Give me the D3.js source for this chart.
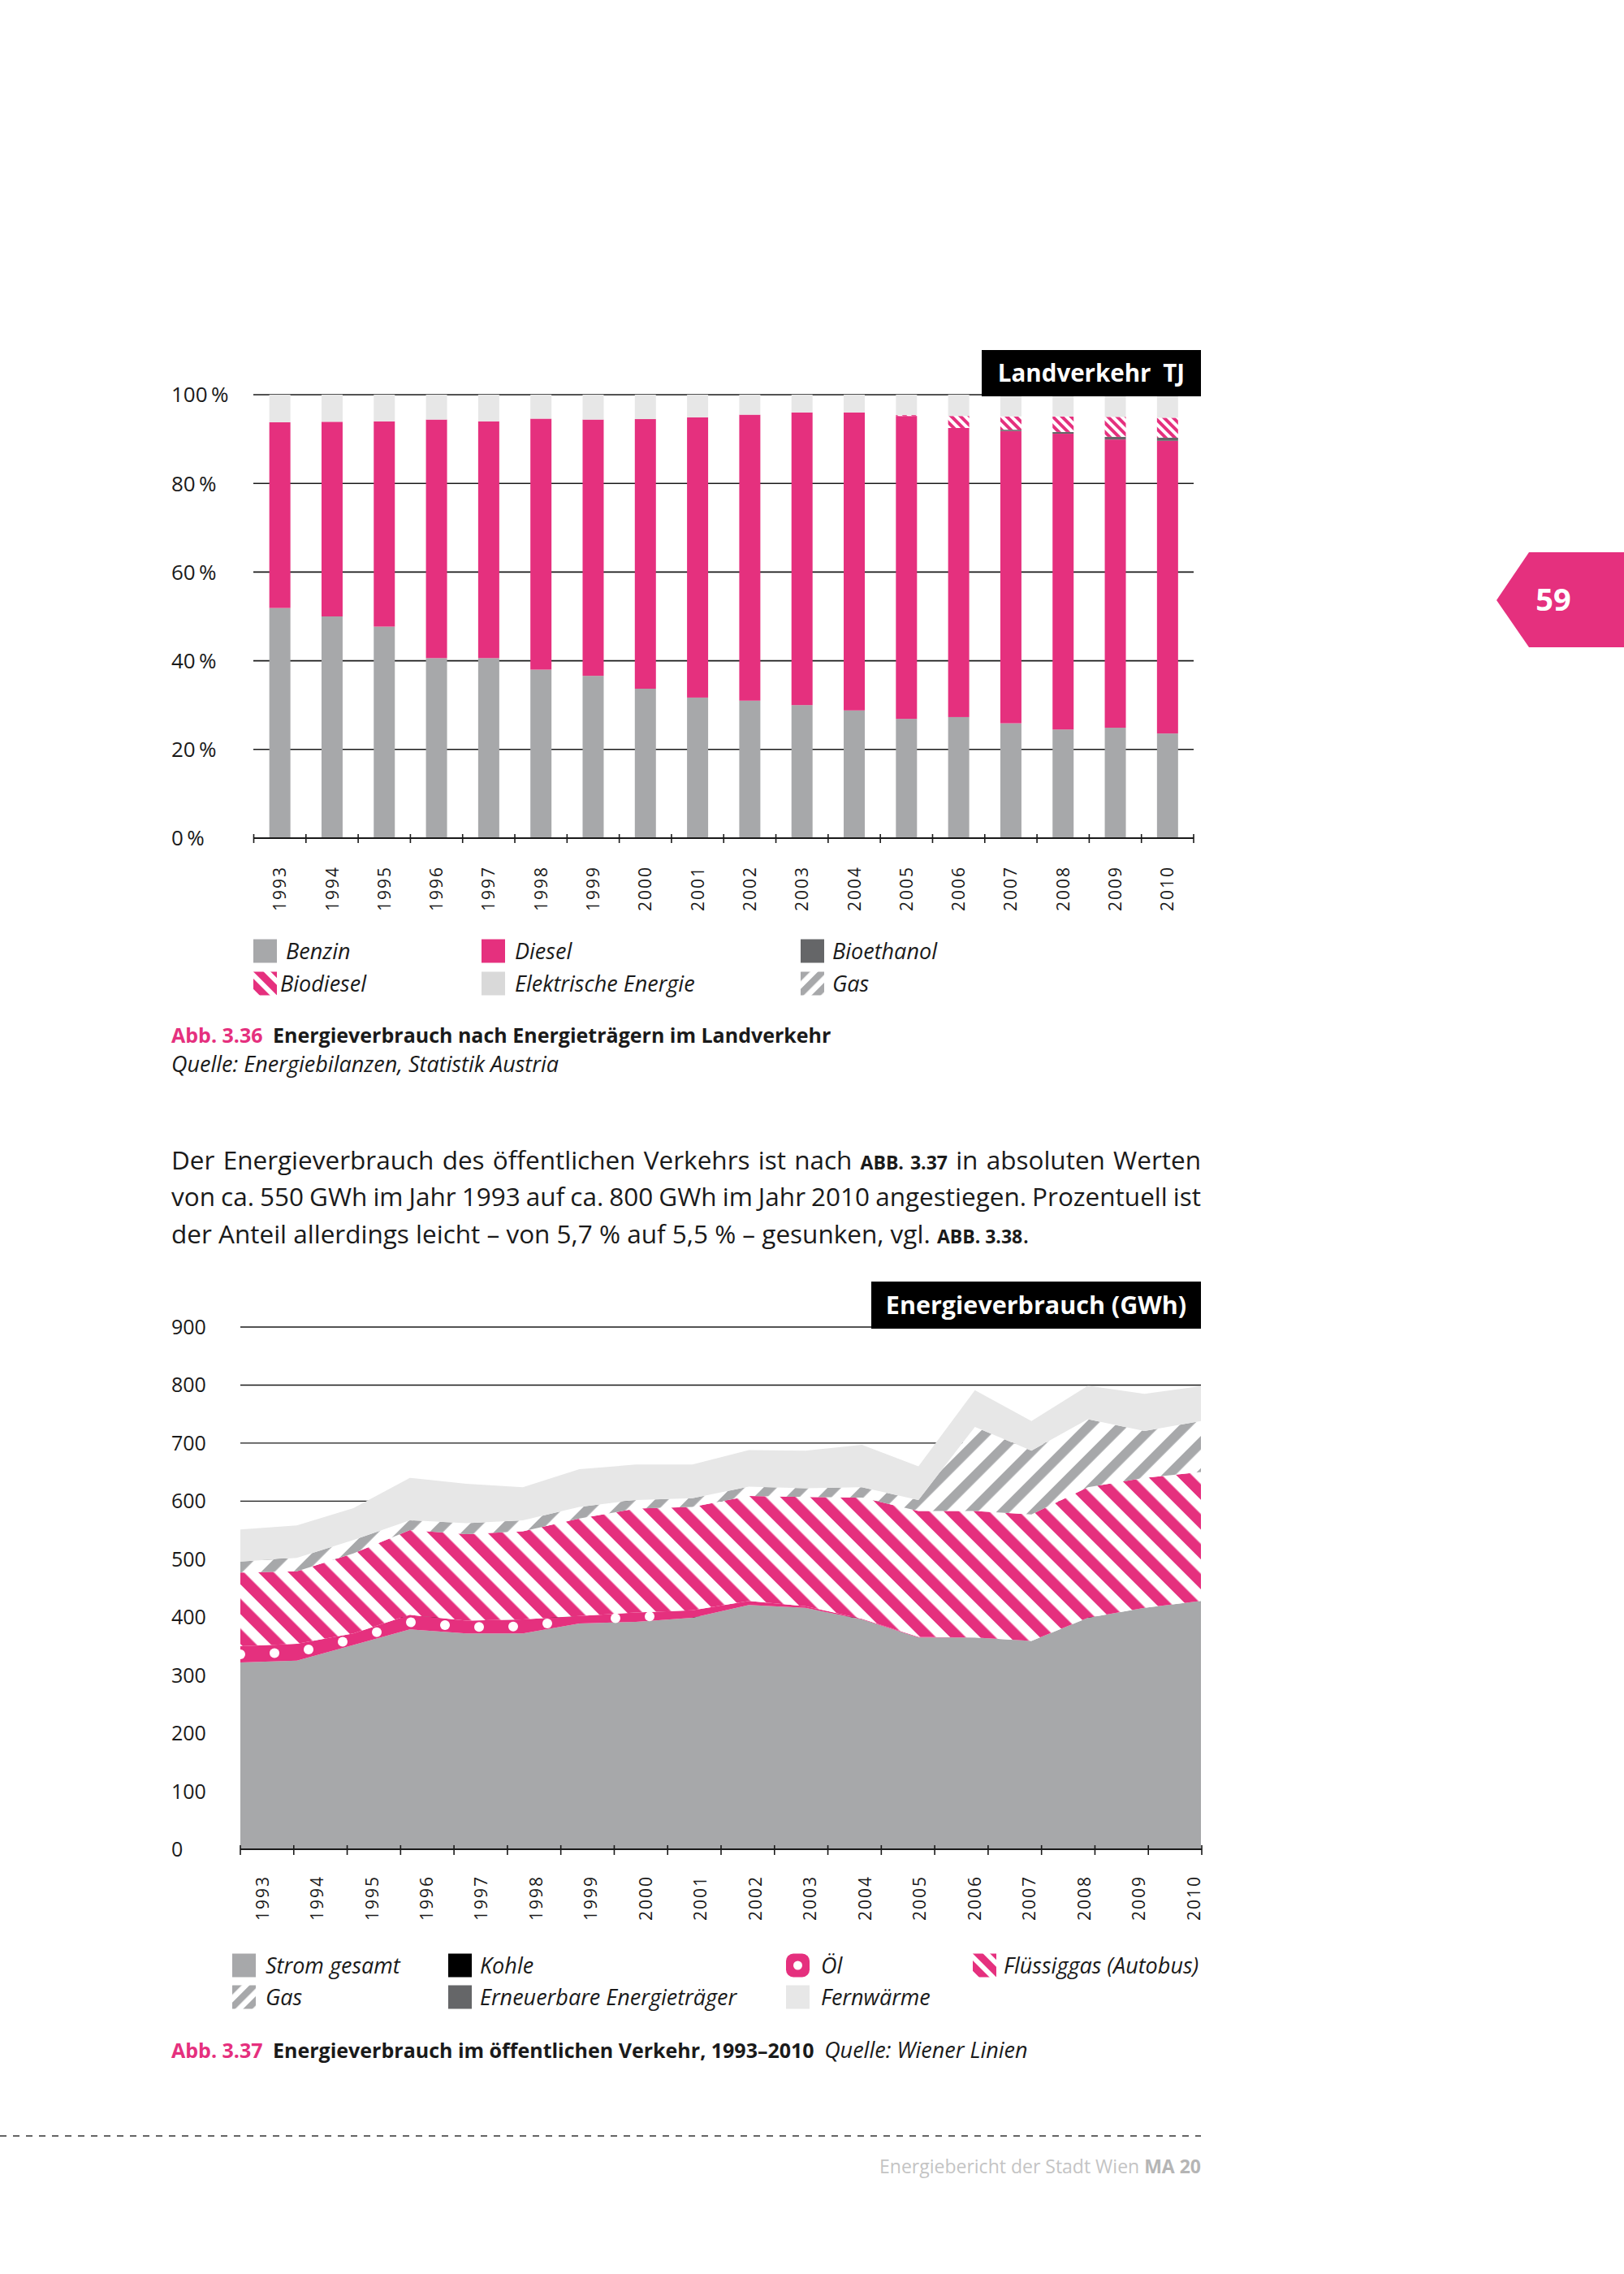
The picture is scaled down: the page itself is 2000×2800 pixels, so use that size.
<!DOCTYPE html>
<html><head><meta charset="utf-8">
<script src="https://cdn.jsdelivr.net/npm/d3@7"></script>
<style>
body{margin:0;background:#fff}
svg{display:block}
text{font-family:"Open Sans","Noto Sans","DejaVu Sans",sans-serif;fill:#1a1a1a}
</style></head>
<body><svg id="c" width="2000" height="2800"></svg>
<script>
// ---------- DATA ----------
const years = ["1993","1994","1995","1996","1997","1998","1999","2000","2001","2002","2003","2004","2005","2006","2007","2008","2009","2010"];

// Abb. 3.36 – shares in % (Landverkehr)
const landKeys = ["Benzin","Diesel","Bioethanol","Biodiesel","Elektrische Energie","Gas"];
const benzin     = [51.9,50.0,47.7,40.6,40.6,38.0,36.6,33.7,31.7,31.0,30.0,28.8,26.9,27.3,25.9,24.5,24.9,23.6];
const diesel     = [41.9,43.9,46.3,53.8,53.4,56.6,57.8,60.8,63.2,64.5,66.0,67.2,68.3,65.2,65.9,66.7,65.0,66.0];
const bioethanol = [0,0,0,0,0,0,0,0,0,0,0,0,0,0,0.3,0.4,0.6,0.7];
const biodiesel  = [0,0,0,0,0,0,0,0,0,0,0,0,0.2,2.7,3.0,3.5,4.5,4.5];
const elektrisch = [6.2,6.1,6.0,5.6,6.0,5.4,5.6,5.5,5.1,4.5,4.0,4.0,4.6,4.8,4.6,4.6,4.7,4.9];
const gasLand    = [0,0,0,0,0,0,0,0,0,0,0,0,0,0,0.3,0.3,0.3,0.3];
const pctTicks   = [0,20,40,60,80,100];

// Abb. 3.37 – GWh (öffentlicher Verkehr)
const oevKeys = ["Strom gesamt","Kohle","Öl","Flüssiggas (Autobus)","Gas","Erneuerbare Energieträger","Fernwärme"];
const strom       = [322,325,352,379,372,372,389,392,399,421,416,396,365,365,359,399,416,428];
const kohle       = [0,0,0,0,0,0,0,0,0,0,0,0,0,0,0,0,0,0];
const oel         = [28,29,20,25,22,24,13,16,13,7,3,1,1,0,0,0,0,0];
const fluessiggas = [127,125,138,146,149,152,168,179,178,181,188,209,217,218,218,225,224,222];
const gasOev      = [19,23,23,17,19,19,20,15,15,16,15,18,19,145,110,117,81,88];
const erneuerbar  = [0,0,0,0,0,0,0,0,0,0,0,0,0,0,0,0,0,0];
const fernwaerme  = [55,56,55,73,68,57,65,61,58,63,65,73,58,63,51,58,64,60];
const gwhTicks    = [0,100,200,300,400,500,600,700,800,900];

// ---------- STYLE ----------
const PINK="#e5307e", GRAY="#a7a8aa", LIGHT="#e7e7e7", DARK="#656668", BLACK="#000";

const svg = d3.select("#c");
svg.append("rect").attr("width",2000).attr("height",2800).attr("fill","#fff");
const defs = svg.append("defs");
function stripes(id,color,pitch,frac,angle){
  const p=defs.append("pattern").attr("id",id).attr("patternUnits","userSpaceOnUse")
    .attr("width",pitch).attr("height",pitch).attr("patternTransform",`rotate(${angle})`);
  p.append("rect").attr("width",pitch).attr("height",pitch).attr("fill","#fff");
  p.append("rect").attr("width",pitch*frac).attr("height",pitch).attr("fill",color);
}
stripes("pFluessig",PINK,26,0.52,-45);
stripes("pGas",GRAY,28,0.42,45);
stripes("pBio",PINK,8,0.5,-45);
stripes("pGasSmall",GRAY,8,0.45,45);
stripes("pLegPink",PINK,15,0.6,-45);
stripes("pLegGray",GRAY,15,0.55,45);

// ---------- PAGE TAB ----------
svg.append("polygon").attr("points","1843,739 1883,680 2000,680 2000,797 1883,797").attr("fill",PINK);
svg.append("text").attr("x",1913).attr("y",752).attr("text-anchor","middle")
  .attr("font-size",38).attr("font-weight",700).style("fill","#fff").text("59");

// ---------- CHART 1 ----------
const x1 = d3.scaleBand().domain(years).range([312.5,1470]).paddingInner(0.596).paddingOuter(0.298);
const y1 = d3.scaleLinear().domain([0,100]).range([1032,486]);
const g1 = svg.append("g");
g1.selectAll("line.grid").data(pctTicks.filter(d=>d>0)).join("line")
  .attr("x1",312).attr("x2",1470).attr("y1",d=>y1(d)).attr("y2",d=>y1(d))
  .attr("stroke","#1a1a1a").attr("stroke-width",1.6);
g1.selectAll("text.yl").data(pctTicks).join("text")
  .attr("x",211).attr("y",d=>y1(d)).attr("dy","0.36em").attr("font-size",26)
  .text(d=>d+"\u2009%");

const landSeries=[benzin,diesel,bioethanol,biodiesel,elektrisch,gasLand];
const landTable = years.map((y,i)=>{const o={year:y};landKeys.forEach((k,j)=>o[k]=landSeries[j][i]);return o;});
const landStack = d3.stack().keys(landKeys)(landTable);
const landFill = {"Benzin":GRAY,"Diesel":PINK,"Bioethanol":DARK,"Biodiesel":"url(#pBio)","Elektrische Energie":LIGHT,"Gas":"url(#pGasSmall)"};
g1.selectAll("g.layer").data(landStack).join("g").attr("fill",d=>landFill[d.key])
  .selectAll("rect").data(d=>d).join("rect")
  .attr("x",d=>x1(d.data.year)).attr("width",x1.bandwidth())
  .attr("y",d=>y1(d[1])).attr("height",d=>Math.max(0,y1(d[0])-y1(d[1])));

// axis
g1.append("line").attr("x1",312).attr("x2",1470).attr("y1",y1(0)).attr("y2",y1(0)).attr("stroke","#1a1a1a").attr("stroke-width",2);
const tick1 = d3.range(years.length+1).map(i=>312.5+i*x1.step());
g1.selectAll("line.tk").data(tick1).join("line")
  .attr("x1",d=>d).attr("x2",d=>d).attr("y1",y1(0)-5).attr("y2",y1(0)+6).attr("stroke","#1a1a1a").attr("stroke-width",1.6);
g1.selectAll("text.xl").data(years).join("text")
  .attr("transform",d=>`translate(${x1(d)+x1.bandwidth()/2},1066) rotate(-90)`)
  .attr("text-anchor","end").attr("dy","0.36em").attr("font-size",21).style("letter-spacing","2px")
  .text(d=>d);

// title box
g1.append("rect").attr("x",1209).attr("y",431).attr("width",270).attr("height",57).attr("fill","#000");
g1.append("text").attr("x",1344).attr("y",470).attr("text-anchor","middle").attr("font-size",29.5)
  .attr("font-weight",700).style("fill","#fff").text("Landverkehr\u2002TJ");

// ---------- LEGEND helper ----------
function swatch(g,kind){
  const s=29;
  if(kind==="oel"){
    g.append("rect").attr("width",s).attr("height",s).attr("rx",9).attr("fill",PINK);
    g.append("circle").attr("cx",s/2).attr("cy",s/2).attr("r",5.5).attr("fill","#fff");
  } else {
    g.append("rect").attr("width",s).attr("height",s).attr("fill",kind);
  }
}
function legend(items,swX,txtX,rowY){
  items.forEach(it=>{
    const cy=rowY[it.r];
    const g=svg.append("g").attr("transform",`translate(${swX[it.c]},${cy-14.5})`);
    swatch(g,it.fill);
    svg.append("text").attr("x",(it.tx||txtX[it.c])).attr("y",cy).attr("dy","0.36em")
      .attr("font-size",27).attr("font-style","italic").text(it.label);
  });
}
legend([
  {label:"Benzin",c:0,r:0,fill:GRAY},
  {label:"Diesel",c:1,r:0,fill:PINK},
  {label:"Bioethanol",c:2,r:0,fill:DARK},
  {label:"Biodiesel",c:0,r:1,fill:"url(#pLegPink)",tx:345},
  {label:"Elektrische Energie",c:1,r:1,fill:"#d9d9d9"},
  {label:"Gas",c:2,r:1,fill:"url(#pLegGray)"}
],[312,593,986],[352,634,1025],[1171,1211]);

// caption 1
const cap1=svg.append("text").attr("x",211).attr("y",1284).attr("font-size",25);
cap1.append("tspan").attr("font-weight",700).style("fill",PINK).text("Abb. 3.36\u2002");
cap1.append("tspan").attr("font-weight",700).text("Energieverbrauch nach Energieträgern im Landverkehr");
svg.append("text").attr("x",211).attr("y",1320).attr("font-size",27).attr("font-style","italic")
  .text("Quelle: Energiebilanzen, Statistik Austria");

// ---------- PARAGRAPH ----------
const para=[
  [["Der Energieverbrauch des öffentlichen Verkehrs ist nach ",false],["ABB. 3.37",true],[" in absoluten Werten",false]],
  [["von ca. 550 GWh im Jahr 1993 auf ca. 800 GWh im Jahr 2010 angestiegen. Prozentuell ist",false]],
  [["der Anteil allerdings leicht – von 5,7 % auf 5,5 % – gesunken, vgl. ",false],["ABB. 3.38",true],[".",false]]
];
const paraY=[1440,1485,1531];
para.forEach((line,i)=>{
  const t=svg.append("text").attr("x",211).attr("y",paraY[i]).attr("font-size",31.5);
  line.forEach(([s,b])=>{
    const ts=t.append("tspan").text(s);
    if(b) ts.attr("font-weight",700).attr("font-size",23);
  });
  if(i<2){
    const len=t.node().getComputedTextLength();
    const n=line.map(d=>d[0]).join("").split(" ").length-1;
    t.style("word-spacing",((1479-211-len)/n)+"px");
  }
});

// ---------- CHART 2 ----------
const x2 = d3.scalePoint().domain(years).range([296,1479]);
const xLab2 = d3.scalePoint().domain(years).range([323,1470]);
const y2 = d3.scaleLinear().domain([0,900]).range([2277,1634]);
const g2=svg.append("g");
g2.selectAll("line.grid").data(gwhTicks.filter(d=>d>0)).join("line")
  .attr("x1",296).attr("x2",d=>d===900?1073:1479).attr("y1",d=>y2(d)).attr("y2",d=>y2(d))
  .attr("stroke","#1a1a1a").attr("stroke-width",1.4);
g2.selectAll("text.yl").data(gwhTicks).join("text")
  .attr("x",211).attr("y",d=>y2(d)).attr("dy","0.36em").attr("font-size",25).text(d=>d);

const oevSeries=[strom,kohle,oel,fluessiggas,gasOev,erneuerbar,fernwaerme];
const oevTable = years.map((y,i)=>{const o={year:y};oevKeys.forEach((k,j)=>o[k]=oevSeries[j][i]);return o;});
const oevStack = d3.stack().keys(oevKeys)(oevTable);
const oevFill={"Strom gesamt":GRAY,"Kohle":BLACK,"Öl":PINK,"Flüssiggas (Autobus)":"url(#pFluessig)","Gas":"url(#pGas)","Erneuerbare Energieträger":DARK,"Fernwärme":LIGHT};
const area=d3.area().x(d=>x2(d.data.year)).y0(d=>y2(d[0])).y1(d=>y2(d[1]));
g2.selectAll("path.layer").data(oevStack).join("path").attr("d",area).attr("fill",d=>oevFill[d.key]);

// Öl dots along the band
const oelLayer=oevStack[oevKeys.indexOf("Öl")];
const dots=[];
for(let px=296; px<=1479; px+=42){
  const t=(px-296)/x2.step(); const i=Math.min(Math.floor(t),years.length-2); const f=t-i;
  const lo=d3.interpolate(oelLayer[i][0],oelLayer[i+1][0])(f);
  const hi=d3.interpolate(oelLayer[i][1],oelLayer[i+1][1])(f);
  if(y2(lo)-y2(hi)>10) dots.push([px,(y2(lo)+y2(hi))/2]);
}
g2.selectAll("circle.dot").data(dots).join("circle").attr("cx",d=>d[0]).attr("cy",d=>d[1]).attr("r",6).attr("fill","#fff");

// axis
g2.append("line").attr("x1",296).attr("x2",1480).attr("y1",y2(0)).attr("y2",y2(0)).attr("stroke","#1a1a1a").attr("stroke-width",2);
const tick2=d3.range(years.length+1).map(i=>296+i*(1480-296)/years.length);
g2.selectAll("line.tk").data(tick2).join("line")
  .attr("x1",d=>d).attr("x2",d=>d).attr("y1",y2(0)-5).attr("y2",y2(0)+7).attr("stroke","#1a1a1a").attr("stroke-width",1.6);
g2.selectAll("text.xl").data(years).join("text")
  .attr("transform",d=>`translate(${xLab2(d)},2309) rotate(-90)`)
  .attr("text-anchor","end").attr("dy","0.36em").attr("font-size",21).style("letter-spacing","2px")
  .text(d=>d);

g2.append("rect").attr("x",1073).attr("y",1578).attr("width",406).attr("height",58).attr("fill","#000");
g2.append("text").attr("x",1276).attr("y",1618).attr("text-anchor","middle").attr("font-size",30.5)
  .attr("font-weight",700).style("fill","#fff").text("Energieverbrauch (GWh)");

legend([
  {label:"Strom gesamt",c:0,r:0,fill:GRAY},
  {label:"Kohle",c:1,r:0,fill:BLACK},
  {label:"Öl",c:2,r:0,fill:"oel"},
  {label:"Flüssiggas (Autobus)",c:3,r:0,fill:"url(#pLegPink)"},
  {label:"Gas",c:0,r:1,fill:"url(#pLegGray)"},
  {label:"Erneuerbare Energieträger",c:1,r:1,fill:DARK},
  {label:"Fernwärme",c:2,r:1,fill:LIGHT}
],[286,552,968,1198],[327,591,1011,1236],[2420,2459]);

const cap2=svg.append("text").attr("x",211).attr("y",2534).attr("font-size",25);
cap2.append("tspan").attr("font-weight",700).style("fill",PINK).text("Abb. 3.37\u2002");
cap2.append("tspan").attr("font-weight",700).text("Energieverbrauch im öffentlichen Verkehr, 1993–2010\u2002");
cap2.append("tspan").attr("font-style","italic").attr("font-size",27).text("Quelle: Wiener Linien");

// ---------- FOOTER ----------
svg.append("line").attr("x1",0).attr("x2",1479).attr("y1",2630).attr("y2",2630)
  .attr("stroke","#333").attr("stroke-width",1.6).attr("stroke-dasharray","8 8");
const ft=svg.append("text").attr("x",1479).attr("y",2676).attr("text-anchor","end").attr("font-size",23);
ft.append("tspan").style("fill","#c4c4c4").text("Energiebericht der Stadt Wien ");
ft.append("tspan").attr("font-weight",700).style("fill","#b5b5b5").text("MA 20");
</script></body></html>
